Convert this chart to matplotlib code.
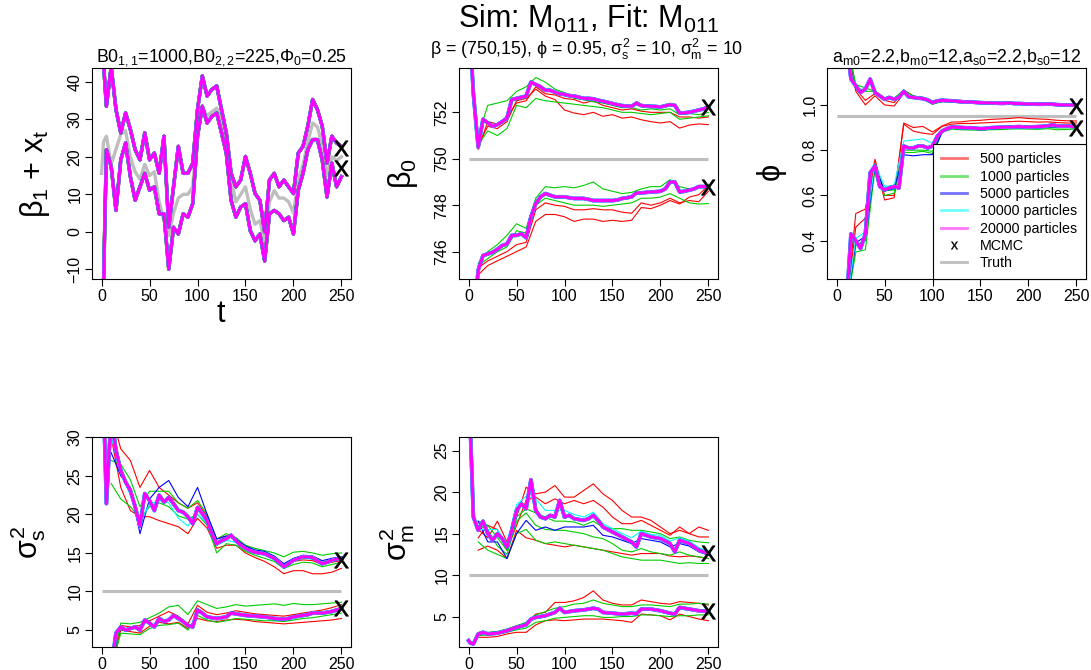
import matplotlib
matplotlib.use('Agg')
import matplotlib.pyplot as plt
from matplotlib.lines import Line2D

plt.rcParams['font.family'] = ['Liberation Sans', 'DejaVu Sans']
plt.rcParams['mathtext.fontset'] = 'custom'
plt.rcParams['mathtext.rm'] = 'Liberation Sans'
plt.rcParams['mathtext.it'] = 'Liberation Sans'
plt.rcParams['mathtext.sf'] = 'Liberation Sans'
plt.rcParams['mathtext.bf'] = 'Liberation Sans:bold'

# time grids: mid paths (fine) and single replicate lines (coarse)
T = [0, 2] + list(range(5, 251, 5))
T10 = list(range(10, 251, 10))

# ---- panel 1: beta_1 + x_t ----
bx_up = [45, 45, 33.5, 44.0, 32.6, 26.4, 31.7, 27.3, 21.9, 19.2, 26.4, 19.2,
         21.0, 15.6, 25.5, 1.2, 12.0, 22.8, 15.6, 15.6, 18.3, 32.6, 41.6, 36.2,
         38.0, 38.9, 32.6, 26.4, 15.6, 12.0, 13.8, 20.1, 15.6, 10.2, 8.4, 0.0,
         13.8, 15.6, 12.0, 13.8, 12.0, 10.2, 21.0, 22.8, 28.2, 35.3, 32.6, 28.2,
         18.3, 25.5, 23.7, 22.8]
bx_lo = [-14, -14, 21.9, 17.4, 5.7, 19.2, 23.7, 14.7, 8.4, 12.0, 15.6, 11.1,
         12.0, 4.8, 4.8, -10.0, 1.2, -0.6, 4.8, 3.9, 7.5, 25.5, 33.5, 29.0,
         30.8, 31.7, 26.4, 21.0, 8.4, 3.9, 6.6, 7.5, 0.3, -2.4, -0.6, -7.8,
         4.8, 5.7, 4.8, 3.0, 3.9, -0.6, 11.1, 15.6, 21.9, 24.6, 24.6, 19.2,
         9.3, 18.3, 12.0, 14.7]
bx_truth = [15.6, 24, 25.5, 18, 22, 26, 27, 20, 16, 14, 18, 15,
            16, 8, 3, -1, 5, 9, 10, 10, 12, 29, 33, 31,
            32, 33, 30, 22, 14, 8, 10, 12, 6, 2, 3, -3,
            8, 11, 9, 9, 8, 5, 14, 18, 24, 29, 28, 23,
            15, 20, 19, 20]
mcmc_bx = [22.3, 16.9]

# ---- panel 2: beta_0 ----
b0_up = [756, 755, 752.8, 750.5, 751.7, 751.55, 751.4, 751.47, 751.6, 751.75, 752.55, 752.6,
         752.65, 752.7, 753.3, 753.2, 753.1, 752.95, 752.95, 752.87, 752.8, 752.77, 752.72, 752.7,
         752.65, 752.6, 752.6, 752.58, 752.52, 752.48, 752.43, 752.38, 752.33, 752.29, 752.27, 752.26,
         752.4, 752.29, 752.27, 752.26, 752.25, 752.23, 752.28, 752.33, 752.3, 751.97, 751.98, 752.0,
         752.05, 752.1, 752.15, 752.23]
b0_lo = [743, 743, 743, 745.2, 745.83, 745.9, 745.97, 746.1, 746.26, 746.33, 746.7, 746.7,
         746.77, 746.6, 747.5, 748.07, 748.36, 748.5, 748.43, 748.36, 748.36, 748.36, 748.32, 748.29,
         748.29, 748.29, 748.25, 748.2, 748.2, 748.2, 748.2, 748.2, 748.22, 748.29, 748.32, 748.36,
         748.53, 748.53, 748.55, 748.57, 748.58, 748.6, 748.7, 749.0, 749.0, 748.57, 748.6, 748.65,
         748.7, 748.8, 748.8, 748.8]
b0_up_red = [
    [750.6, 751.4, 751.3, 751.6, 752.5, 752.6, 753.0, 752.7, 752.55, 752.1, 751.97, 751.9,
     752.0, 751.83, 751.9, 751.75, 751.8, 751.68, 751.6, 751.54, 751.6, 751.32, 751.45, 751.5,
     751.47],
    [750.4, 751.6, 751.5, 751.8, 752.4, 752.5, 753.1, 752.8, 752.75, 752.6, 752.55, 752.4,
     752.5, 752.3, 752.2, 752.1, 752.15, 752.05, 752.0, 752.0, 752.0, 751.8, 751.8, 751.75,
     751.8]]
b0_up_green = [
    [751.0, 752.3, 752.4, 752.5, 752.9, 753.1, 753.5, 753.3, 753.0, 752.85, 752.6, 752.55,
     752.45, 752.4, 752.3, 752.2, 752.2, 752.1, 752.15, 752.1, 752.15, 751.9, 751.95, 751.9,
     752.0],
    [750.6, 751.2, 751.0, 751.3, 752.3, 752.2, 752.6, 752.5, 752.45, 752.4, 752.35, 752.3,
     752.25, 752.2, 752.1, 752.0, 752.0, 751.95, 751.9, 751.95, 752.0, 751.7, 751.75, 751.8,
     751.85]]
b0_lo_red = [
    [745.0, 745.4, 745.6, 745.8, 746.0, 746.2, 747.3, 747.6, 747.6, 747.5, 747.3, 747.4,
     747.4, 747.3, 747.35, 747.3, 747.35, 747.9, 747.85, 748.0, 748.2, 748.05, 748.35, 748.45,
     748.85],
    [745.3, 745.6, 745.8, 746.0, 746.3, 746.4, 747.8, 748.1, 748.0, 747.95, 747.8, 747.8,
     747.85, 747.8, 747.8, 747.7, 747.65, 748.1, 748.0, 748.1, 748.3, 748.1, 748.2, 748.15,
     748.6]]
b0_lo_green = [
    [745.5, 746.0, 746.3, 746.7, 747.2, 747.0, 748.3, 748.8, 748.75, 748.8, 748.75, 748.85,
     749.0, 748.7, 748.6, 748.5, 748.55, 748.7, 748.8, 748.8, 749.1, 748.8, 748.7, 748.75,
     748.9],
    [745.4, 745.7, 746.0, 746.2, 746.9, 746.8, 748.0, 748.3, 748.2, 748.1, 748.0, 748.0,
     748.0, 747.95, 748.0, 748.05, 748.1, 748.3, 748.3, 748.35, 748.5, 748.3, 748.1, 748.05,
     748.07]]
mcmc_b0 = [752.23, 748.8]

# ---- panel 3: phi ----
ph_up = [1.3, 1.3, 1.3, 1.3, 1.114, 1.084, 1.055, 1.07, 1.114, 1.055, 1.04, 1.025,
         1.033, 1.025, 1.033, 1.06, 1.036, 1.033, 1.03, 1.028, 1.022, 1.01, 1.018, 1.02,
         1.019, 1.018, 1.016, 1.014, 1.013, 1.013, 1.011, 1.01, 1.009, 1.009, 1.008, 1.007,
         1.007, 1.009, 1.006, 1.006, 1.005, 1.004, 1.004, 1.003, 1.003, 1.004, 1.003, 1.001,
         1.0, 1.0, 0.999, 0.999]
ph_lo = [0.1, 0.1, 0.1, 0.1, 0.43, 0.40, 0.366, 0.43, 0.70, 0.73, 0.64, 0.625,
         0.633, 0.64, 0.633, 0.818, 0.81, 0.81, 0.818, 0.818, 0.81, 0.818, 0.862, 0.884,
         0.895, 0.902, 0.901, 0.90, 0.899, 0.899, 0.897, 0.895, 0.896, 0.899, 0.90, 0.901,
         0.902, 0.902, 0.903, 0.904, 0.903, 0.902, 0.903, 0.904, 0.905, 0.907, 0.912, 0.907,
         0.906, 0.907, 0.905, 0.904]
ph_up_red = [
    [1.3, 1.06, 1.0, 1.04, 1.0, 0.995, 1.05, 1.035, 1.03, 1.015, 1.025, 1.02,
     1.02, 1.015, 1.012, 1.012, 1.01, 1.01, 1.008, 1.006, 1.005, 1.004, 1.003, 1.0,
     0.998],
    [1.3, 1.07, 1.02, 1.05, 1.02, 1.01, 1.065, 1.04, 1.025, 1.005, 1.015, 1.015,
     1.01, 1.01, 1.006, 1.005, 1.004, 1.005, 1.003, 1.002, 1.0, 1.0, 0.998, 0.996,
     0.993]]
ph_up_green = [
    [1.3, 1.08, 1.06, 1.06, 1.03, 1.03, 1.05, 1.03, 1.025, 1.003, 1.015, 1.012,
     1.01, 1.008, 1.005, 1.005, 1.004, 1.004, 1.002, 1.0, 0.999, 0.999, 0.997, 0.996,
     0.995],
    [1.3, 1.09, 1.075, 1.06, 1.03, 1.03, 1.065, 1.04, 1.033, 1.015, 1.025, 1.022,
     1.018, 1.016, 1.014, 1.012, 1.011, 1.012, 1.01, 1.008, 1.007, 1.007, 1.005, 1.004,
     1.003]]
ph_lo_red = [
    [0.1, 0.52, 0.54, 0.76, 0.60, 0.60, 0.92, 0.90, 0.905, 0.88, 0.907, 0.924,
     0.925, 0.93, 0.932, 0.936, 0.938, 0.94, 0.944, 0.94, 0.938, 0.936, 0.932, 0.93,
     0.929],
    [0.1, 0.46, 0.50, 0.75, 0.58, 0.59, 0.915, 0.884, 0.875, 0.87, 0.905, 0.915,
     0.918, 0.918, 0.92, 0.922, 0.924, 0.926, 0.928, 0.926, 0.924, 0.925, 0.922, 0.92,
     0.92]]
ph_lo_green = [
    [0.1, 0.35, 0.36, 0.72, 0.60, 0.61, 0.79, 0.79, 0.795, 0.785, 0.88, 0.893,
     0.89, 0.889, 0.888, 0.89, 0.891, 0.893, 0.894, 0.893, 0.892, 0.895, 0.89, 0.892,
     0.893],
    [0.1, 0.38, 0.40, 0.74, 0.62, 0.625, 0.80, 0.80, 0.80, 0.795, 0.882, 0.897,
     0.895, 0.894, 0.893, 0.895, 0.896, 0.898, 0.899, 0.898, 0.898, 0.90, 0.898, 0.899,
     0.90]]
ph_lo_blue = [
    [0.1, 0.39, 0.42, 0.73, 0.62, 0.63, 0.78, 0.775, 0.78, 0.78, 0.88, 0.898,
     0.896, 0.896, 0.893, 0.897, 0.898, 0.9, 0.901, 0.9, 0.901, 0.903, 0.903, 0.904,
     0.902]]
ph_lo_cyan = [
    [0.1, 0.41, 0.44, 0.74, 0.64, 0.645, 0.84, 0.845, 0.85, 0.83, 0.89, 0.905,
     0.903, 0.902, 0.899, 0.902, 0.904, 0.905, 0.906, 0.905, 0.906, 0.909, 0.909, 0.91,
     0.907]]
mcmc_ph = [0.996, 0.90]

# ---- panel 4: sigma^2_s ----
ss_up = [35, 35, 21.4, 33, 28.3, 25.7, 24.2, 23.1, 21.0, 18.5, 22.7, 21.8,
         20.5, 22.5, 21.6, 22.2, 21.4, 20.5, 20.3, 19.7, 18.8, 20.9, 20.1, 19.2,
         17.5, 16.2, 16.6, 16.85, 17.3, 16.6, 16.0, 15.6, 15.3, 15.1, 15.0, 14.9,
         14.6, 14.3, 13.8, 13.2, 13.6, 14.05, 14.3, 14.5, 14.5, 14.4, 14.0, 13.6,
         13.8, 14.05, 14.2, 14.3]
ss_lo = [0, 0, 0, 0, 4.6, 5.4, 5.0, 5.2, 5.4, 5.0, 6.3, 5.9,
         5.4, 6.5, 6.1, 6.3, 6.9, 6.5, 6.1, 5.6, 5.4, 7.6, 7.2, 6.7,
         6.6, 6.5, 6.6, 6.7, 7.2, 7.1, 7.0, 6.9, 6.85, 6.8, 6.75, 6.7,
         6.6, 6.5, 6.45, 6.4, 6.5, 6.7, 6.8, 6.9, 7.0, 7.2, 7.2, 7.2,
         7.3, 7.4, 7.6, 7.8]
ss_up_red = [
    [33, 28.5, 27.0, 23.5, 25.7, 23.5, 22.5, 21.5, 20.8, 21.5, 19.8, 16.8,
     17.2, 16.9, 15.9, 15.2, 14.8, 14.2, 13.4, 13.9, 14.1, 14.0, 13.5, 13.8,
     14.0],
    [30, 23.5, 20.5, 19.7, 19.7, 19.2, 18.8, 18.4, 17.5, 19.5, 18.2, 15.6,
     16.0, 16.0, 15.0, 14.4, 13.9, 13.2, 12.3, 12.7, 12.7, 12.3, 12.3, 12.5,
     13.0]]
ss_up_green = [
    [27, 26.5, 24.5, 21.0, 23.0, 23.0, 23.0, 21.5, 20.8, 21.8, 20.0, 16.8,
     17.5, 17.0, 16.0, 15.6, 15.3, 15.0, 14.5, 15.1, 15.2, 15.0, 14.7, 14.9,
     15.0],
    [24, 22.0, 21.0, 19.5, 21.0, 21.5, 21.0, 19.8, 19.4, 20.0, 18.6, 15.0,
     16.2, 16.0, 15.2, 14.7, 14.3, 13.9, 13.0, 13.5, 13.8, 13.7, 13.2, 13.5,
     13.8]]
ss_up_blue = [
    [28, 25.0, 23.5, 17.5, 22.0, 23.5, 24.4, 22.2, 21.0, 23.5, 20.0, 16.8,
     17.2, 16.8, 15.9, 15.4, 15.2, 14.6, 13.6, 14.3, 14.7, 14.6, 14.0, 14.3,
     14.5]]
ss_up_cyan = [
    [30, 25.5, 22.5, 19.0, 21.3, 21.8, 21.5, 19.5, 18.5, 20.0, 18.9, 16.0,
     16.6, 16.4, 15.5, 15.0, 14.8, 14.2, 13.2, 13.9, 14.3, 14.2, 13.6, 13.9,
     14.2]]
ss_lo_red = [
    [0, 5.0, 4.8, 4.6, 5.5, 6.0, 5.8, 6.0, 5.2, 6.5, 6.2, 6.1,
     6.3, 6.4, 6.3, 6.1, 6.0, 5.9, 5.8, 5.9, 6.0, 6.1, 6.2, 6.3,
     6.5],
    [0, 5.6, 5.4, 5.6, 6.2, 6.8, 7.4, 6.8, 5.8, 8.2, 7.3, 7.0,
     7.2, 7.5, 7.3, 7.1, 7.0, 6.9, 6.8, 7.0, 7.2, 7.4, 7.6, 7.9,
     8.3]]
ss_lo_green = [
    [0, 5.9, 5.8, 6.0, 6.6, 7.2, 8.0, 8.2, 7.0, 8.8, 8.3, 7.8,
     8.0, 8.3, 8.1, 8.2, 8.3, 8.4, 8.2, 8.45, 8.3, 8.3, 8.4, 8.5,
     8.6],
    [0, 4.6, 4.5, 4.4, 5.2, 5.6, 5.7, 5.9, 5.0, 6.9, 6.3, 6.0,
     6.2, 6.5, 6.4, 6.3, 6.2, 6.2, 6.1, 6.3, 6.5, 6.6, 6.8, 7.0,
     7.2]]
mcmc_ss = [14.05, 7.8]

# ---- panel 5: sigma^2_m ----
sm_up = [30, 27, 17.0, 15.4, 16.5, 15.0, 14.2, 15.0, 14.4, 13.4, 15.4, 17.8,
         18.6, 18.0, 21.5, 17.8, 17.0, 16.8, 17.2, 17.0, 19.0, 17.0, 17.2, 16.8,
         16.7, 16.6, 16.8, 17.2, 16.6, 15.8, 15.5, 15.2, 14.9, 14.6, 14.3, 14.0,
         13.4, 15.0, 14.8, 14.6, 14.5, 14.4, 14.1, 13.8, 12.8, 14.2, 14.0, 13.8,
         13.4, 13.0, 12.8, 12.6]
sm_lo = [2.1, 1.8, 1.7, 2.9, 3.1, 2.9, 2.95, 3.0, 3.15, 3.3, 3.5, 3.7,
         3.85, 4.0, 4.7, 4.9, 5.0, 5.1, 5.3, 5.5, 6.0, 5.5, 5.6, 5.7,
         5.75, 5.8, 5.9, 6.0, 5.9, 5.5, 5.45, 5.4, 5.35, 5.3, 5.35, 5.4,
         5.35, 5.9, 5.9, 5.9, 5.8, 5.7, 5.55, 5.4, 5.3, 6.1, 6.0, 5.9,
         5.8, 5.7, 5.65, 5.6]
sm_up_red = [
    [15.5, 14.5, 16.5, 14.0, 17.0, 20.6, 19.8, 20.0, 20.8, 19.4, 19.4, 20.2,
     21.0, 19.8, 19.0, 17.8, 17.0, 17.0, 16.6, 15.8, 15.0, 15.4, 15.0, 15.8,
     15.4],
    [14.5, 16.0, 15.5, 13.0, 16.0, 19.0, 19.4, 18.6, 19.2, 18.6, 19.0, 18.6,
     19.0, 18.2, 17.0, 16.2, 16.2, 16.6, 16.0, 15.4, 14.8, 15.8, 15.0, 14.6,
     14.6],
    [13.0, 13.5, 13.0, 12.0, 15.4, 14.5, 14.2, 13.8, 13.6, 13.4, 13.6, 13.4,
     13.2, 13.0, 12.8, 12.6, 12.4, 12.6, 12.6, 12.6, 12.3, 12.2, 12.3, 12.2,
     12.0]]
sm_up_green = [
    [14.0, 13.0, 12.5, 12.0, 15.0, 15.5, 14.2, 13.8, 14.0, 13.8, 13.6, 13.4,
     13.2, 13.0, 12.6, 12.2, 12.0, 11.8, 11.8, 11.8, 11.6, 11.4, 11.5, 11.4,
     11.4],
    [16.0, 15.5, 13.5, 12.5, 16.5, 17.5, 16.0, 15.5, 15.4, 15.4, 15.2, 15.0,
     14.6, 14.4, 13.8, 13.0, 12.8, 13.2, 12.8, 12.6, 12.4, 12.8, 12.4, 12.2,
     12.0],
    [16.5, 16.0, 14.5, 13.0, 17.0, 18.0, 17.5, 17.0, 16.5, 16.5, 16.4, 16.0,
     16.5, 15.8, 15.6, 15.6, 15.4, 15.4, 15.2, 15.0, 14.4, 14.6, 14.2, 14.0,
     13.9]]
sm_up_blue = [
    [16.5, 14.0, 14.0, 12.0, 15.0, 16.6, 15.4, 15.8, 15.4, 15.8, 15.8, 15.8,
     16.0, 14.8, 14.6, 14.2, 13.8, 14.4, 14.2, 14.0, 13.4, 13.8, 13.5, 12.8,
     12.4]]
sm_up_cyan = [
    [15.5, 15.5, 15.5, 13.8, 18.5, 19.5, 19.2, 17.8, 17.8, 17.8, 17.3, 17.0,
     17.6, 16.2, 15.6, 15.0, 14.5, 15.3, 14.9, 14.8, 14.1, 14.5, 14.1, 13.3,
     12.9]]
sm_lo_red = [
    [2.9, 3.0, 3.1, 3.4, 3.8, 4.1, 5.3, 5.5, 6.7, 6.7, 6.9, 7.3,
     8.1, 7.0, 6.6, 6.4, 6.4, 7.0, 6.8, 6.6, 6.5, 6.8, 6.7, 6.6,
     6.4],
    [2.5, 2.5, 2.6, 2.9, 3.1, 3.1, 4.0, 4.5, 4.6, 4.5, 4.6, 4.7,
     4.7, 4.7, 4.6, 4.5, 4.3, 5.3, 5.2, 5.1, 4.6, 5.3, 5.0, 4.7,
     4.5]]
sm_lo_green = [
    [3.0, 3.1, 3.2, 3.5, 3.9, 4.3, 5.2, 5.6, 6.0, 6.2, 6.5, 6.6,
     7.0, 6.6, 6.4, 6.2, 6.2, 6.4, 6.4, 6.3, 6.2, 6.5, 6.5, 6.6,
     6.5],
    [2.7, 2.8, 2.9, 3.1, 3.4, 3.6, 4.3, 4.5, 4.8, 4.9, 5.0, 5.1,
     5.1, 4.9, 4.9, 5.0, 5.0, 5.2, 5.2, 5.1, 5.0, 5.1, 5.1, 5.2,
     5.2]]
mcmc_sm = [12.7, 5.7]

truth_vals = [750, 0.95, 10, 10]

RED, GREEN, BLUE, CYAN, MAG = '#FF0000', '#00CD00', '#0000FF', '#00FFFF', '#FF00FF'
GRAY = '#BEBEBE'
W, H = 1091, 670

fig = plt.figure(figsize=(W / 100, H / 100), dpi=100)


def make_axes(left, top, height):
    return fig.add_axes([left / W, 1 - (top + height) / H, 259 / W, height / H])


def style_axes(ax, ylim, yticks, ylabels=None):
    ax.set_xlim(-10, 260)
    ax.set_ylim(*ylim)
    ax.set_xticks([0, 50, 100, 150, 200, 250])
    ax.set_yticks(yticks)
    if ylabels is not None:
        ax.set_yticklabels(ylabels)
    ax.tick_params(direction='out', length=5, width=0.8, pad=2, labelsize=11.5)
    ax.tick_params(axis='y', labelrotation=90)
    plt.setp(ax.get_yticklabels(), va='center')
    for s in ax.spines.values():
        s.set_linewidth(0.8)


def draw_band(ax, mid, reds=(), greens=(), blues=(), cyans=()):
    for v in reds:
        ax.plot(T10, v, color=RED, lw=0.8)
    for v in greens:
        ax.plot(T10, v, color=GREEN, lw=0.8)
    for v in blues:
        ax.plot(T10, v, color=BLUE, lw=0.8)
    for v in cyans:
        ax.plot(T10, v, color=CYAN, lw=0.8)
    ax.plot(T, mid, color=BLUE, lw=2.7)
    ax.plot(T, mid, color=CYAN, lw=2.5)
    ax.plot(T, mid, color=MAG, lw=2.2)


def draw_mcmc(ax, vals):
    ax.plot([250] * len(vals), vals, ls='none', marker='$X$', ms=11,
            color='black', mew=0.6)


# panel 1
ax1 = make_axes(92, 68, 211)
ax1.plot(T, bx_truth, color=GRAY, lw=2.4)
for band in (bx_up, bx_lo):
    ax1.plot(T, band, color=RED, lw=2.5)
    ax1.plot(T, band, color=GREEN, lw=2.45)
    ax1.plot(T, band, color=BLUE, lw=2.4)
    ax1.plot(T, band, color=CYAN, lw=2.35)
    ax1.plot(T, band, color=MAG, lw=2.2)
draw_mcmc(ax1, mcmc_bx)
style_axes(ax1, (-12.6, 43.7), [-10, 0, 10, 20, 30, 40])

# panel 2
ax2 = make_axes(459, 68, 211)
ax2.hlines(truth_vals[0], 0, 250, color=GRAY, lw=2.2)
draw_band(ax2, b0_up, b0_up_red, b0_up_green)
draw_band(ax2, b0_lo, b0_lo_red, b0_lo_green)
draw_mcmc(ax2, mcmc_b0)
style_axes(ax2, (744.82, 753.91), [746, 748, 750, 752])

# panel 3
ax3 = make_axes(827, 68, 211)
ax3.hlines(truth_vals[1], 0, 250, color=GRAY, lw=2.2)
draw_band(ax3, ph_up, ph_up_red, ph_up_green)
draw_band(ax3, ph_lo, ph_lo_red, ph_lo_green, ph_lo_blue, ph_lo_cyan)
draw_mcmc(ax3, mcmc_ph)
style_axes(ax3, (0.231, 1.163), [0.4, 0.6, 0.8, 1.0], ['0.4', '0.6', '0.8', '1.0'])

# panel 4
ax4 = make_axes(92, 437, 210)
ax4.hlines(truth_vals[2], 0, 250, color=GRAY, lw=2.2)
draw_band(ax4, ss_up, ss_up_red, ss_up_green, ss_up_blue, ss_up_cyan)
draw_band(ax4, ss_lo, ss_lo_red, ss_lo_green)
draw_mcmc(ax4, mcmc_ss)
style_axes(ax4, (2.8, 30.04), [5, 10, 15, 20, 25, 30])

# panel 5
ax5 = make_axes(459, 437, 210)
ax5.hlines(truth_vals[3], 0, 250, color=GRAY, lw=2.2)
draw_band(ax5, sm_up, sm_up_red, sm_up_green, sm_up_blue, sm_up_cyan)
draw_band(ax5, sm_lo, sm_lo_red, sm_lo_green)
draw_mcmc(ax5, mcmc_sm)
style_axes(ax5, (1.33, 26.65), [5, 10, 15, 20, 25])

# legend
labels = ['500 particles', '1000 particles', '5000 particles', '10000 particles',
          '20000 particles', 'MCMC', 'Truth']
handles = [Line2D([], [], color=c, lw=2, alpha=0.55) for c in (RED, GREEN, BLUE, CYAN, MAG)]
handles.append(Line2D([], [], ls='none', marker='$x$', ms=5.5, color='black', mew=0.2))
handles.append(Line2D([], [], color=GRAY, lw=2))
leg = ax3.legend(handles, labels, loc='lower right', borderaxespad=0, fontsize=10.3,
                 handlelength=1.8, handletextpad=0.9, labelspacing=0.23, borderpad=0.62,
                 fancybox=False, framealpha=1, edgecolor='black')
leg.get_frame().set_linewidth(0.8)

# titles and labels
fig.text(588.5 / W, 1 - 28.3 / H, r'Sim: M$_{011}$, Fit: M$_{011}$', fontsize=22,
         ha='center', va='baseline')
fig.text(221.5 / W, 1 - 61.5 / H, r'B0$_{1,1}$=1000,B0$_{2,2}$=225,$\Phi_0$=0.25',
         fontsize=12.8, ha='center', va='baseline')
fig.text(586.5 / W, 1 - 55.5 / H,
         r'$\beta$ = (750,15), $\phi$ = 0.95, $\sigma^2_s$ = 10, $\sigma^2_m$ = 10',
         fontsize=12.8, ha='center', va='baseline')
fig.text(956.5 / W, 1 - 62 / H, r'a$_{m0}$=2.2,b$_{m0}$=12,a$_{s0}$=2.2,b$_{s0}$=12',
         fontsize=12.8, ha='center', va='baseline')

ylabs = [(35, 173.5, r'$\beta_1$ + x$_t$'), (403, 173.5, r'$\beta_0$'),
         (772, 173.5, r'$\phi$'), (28, 542, r'$\sigma^2_s$'), (397, 542, r'$\sigma^2_m$')]
for x, y, s in ylabs:
    fig.text(x / W, 1 - y / H, s, fontsize=22, rotation=90, ha='center', va='center')
fig.text(221 / W, 1 - 322 / H, 't', fontsize=22, ha='center', va='baseline')

fig.savefig('out.png', dpi=100)
